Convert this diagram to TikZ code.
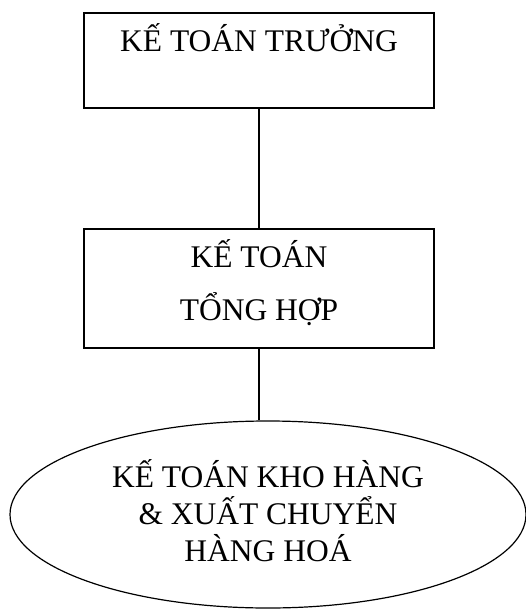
\documentclass[tikz,border=0pt]{standalone}
\usepackage{fontspec}
\setmainfont{Liberation Serif}
\usetikzlibrary{shapes.geometric}

\begin{document}
\begin{tikzpicture}[x=1pt, y=-1pt,
                    unit/.style={rectangle, draw, line width=1.3pt, inner sep=0pt,
                                 minimum width=350pt, align=center},
                    store/.style={ellipse, draw, line width=1.2pt, inner sep=0pt,
                                  minimum width=516pt, minimum height=187pt, align=center},
                    font=\fontsize{31.5pt}{37pt}\selectfont]
  \useasboundingbox (0, 0) rectangle (526, 610);

  % Units.
  \node at (259, 60.5) [unit, text height=39pt, text depth=56pt,
                        name=ChiefAccountant] {KẾ TOÁN TRƯỞNG};
  \node at (259, 288.5) [unit, text height=91.5pt, text depth=27.5pt,
                         name=GeneralAccountant] {KẾ TOÁN\\[16.5pt]TỔNG HỢP};
  \node at (268, 514.5) [store, text height=110pt, text depth=16pt,
                         name=WarehouseAccountant] {KẾ TOÁN KHO HÀNG\\\& XUẤT CHUYỂN\\HÀNG HOÁ};

  % Reporting lines.
  \draw [line width=1.3pt] (ChiefAccountant) -- (GeneralAccountant);
  \draw [line width=1.3pt] (GeneralAccountant.south)
                           -- (GeneralAccountant.south |- WarehouseAccountant.north);
\end{tikzpicture}
\end{document}
